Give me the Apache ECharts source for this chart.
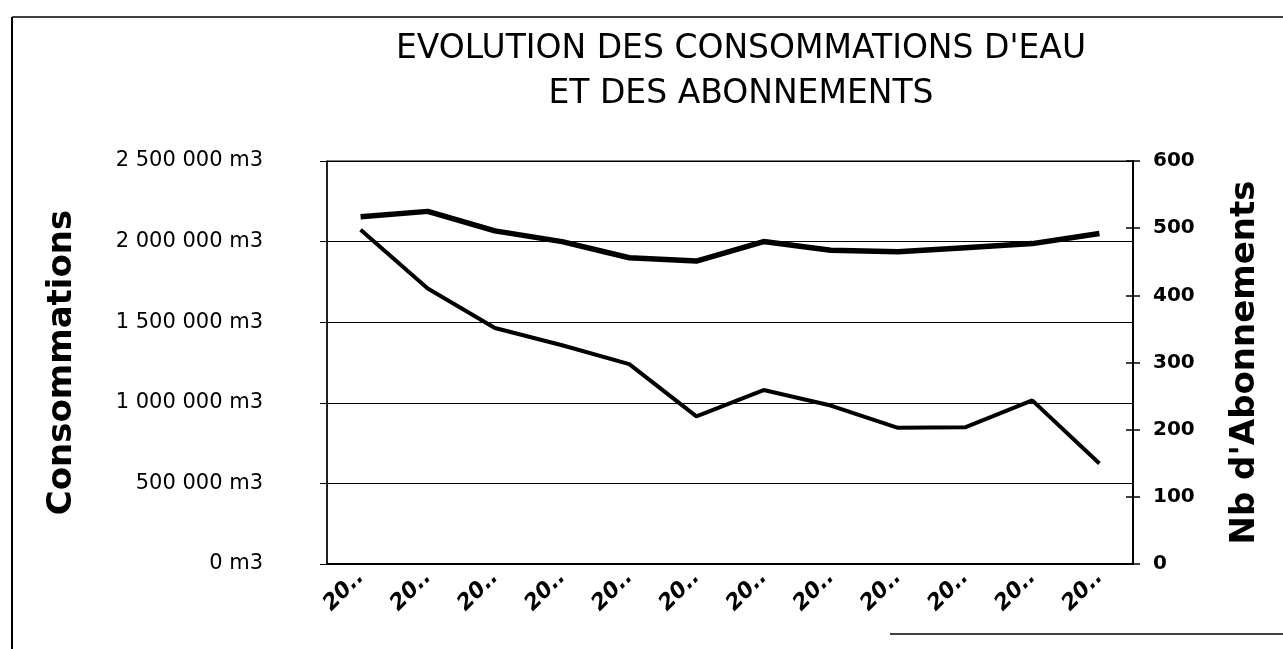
<!DOCTYPE html>
<html>
<head>
<meta charset="utf-8">
<script src="https://cdn.jsdelivr.net/npm/echarts@6/dist/echarts.min.js"></script>
<style>
  html, body { margin: 0; padding: 0; background: #fff; }
  #chart { width: 1283px; height: 649px; }
</style>
</head>
<body>
<div id="chart"></div>
<script>
// années tronquées comme sur l'original
const categories = ['20..', '20..', '20..', '20..', '20..', '20..', '20..', '20..', '20..', '20..', '20..', '20..']
const consommations = [2074000, 1709000, 1464000, 1357000, 1240000, 916000, 1079000, 983000, 845000, 848000, 1015000, 623000]
const abonnements = [517, 525, 496, 480, 456, 451, 480, 467, 465, 471, 477, 492]

const fmtM3 = (v) => String(v).replace(/\B(?=(\d{3})+(?!\d))/g, ' ') + ' m3'

const chart = echarts.init(document.getElementById('chart'))

chart.setOption({
  animation: false,
  backgroundColor: '#fff',
  title: {
    text: "EVOLUTION DES CONSOMMATIONS D'EAU\nET DES ABONNEMENTS",
    left: 736,
    top: 22,
    textAlign: 'center',
    textStyle: {
      fontFamily: 'DejaVu Sans',
      fontSize: 33,
      fontWeight: 'normal',
      color: '#000',
      lineHeight: 45,
    },
  },
  graphic: [
    { type: 'line', shape: { x1: 12, y1: 17, x2: 1283, y2: 17 }, style: { stroke: '#000', lineWidth: 1.5 } },
    { type: 'line', shape: { x1: 12, y1: 17, x2: 12, y2: 649 }, style: { stroke: '#000', lineWidth: 2 } },
    { type: 'line', shape: { x1: 890, y1: 634, x2: 1283, y2: 634 }, style: { stroke: '#000', lineWidth: 1.5 } },
  ],
  grid: {
    left: 327,
    right: 150,
    top: 161,
    bottom: 85,
    show: true,
    borderColor: '#000',
    borderWidth: 1,
  },
  xAxis: {
    type: 'category',
    data: categories,
    boundaryGap: true,
    axisLine: { lineStyle: { color: '#000', width: 2 } },
    axisTick: { length: 8, lineStyle: { color: '#000', width: 1.5 } },
    axisLabel: {
      interval: 0,
      rotate: 45,
      margin: 10,
      color: '#000',
      fontFamily: 'DejaVu Sans',
      fontSize: 22,
      fontWeight: 'bold',
      fontStyle: 'italic',
    },
  },
  yAxis: [
    {
      type: 'value',
      position: 'left',
      min: 0,
      max: 2500000,
      interval: 500000,
      name: 'Consommations',
      nameLocation: 'middle',
      nameGap: 248,
      nameTextStyle: { fontFamily: 'DejaVu Sans', fontSize: 34, fontWeight: 'bold', color: '#000' },
      axisLine: { show: true, lineStyle: { color: '#000', width: 1.5 } },
      axisTick: { show: true, length: 7, lineStyle: { color: '#000' } },
      axisLabel: { margin: 64, color: '#000', fontFamily: 'DejaVu Sans', fontSize: 21, formatter: fmtM3 },
      splitLine: { show: true, lineStyle: { color: '#000', width: 1 } },
    },
    {
      type: 'value',
      position: 'right',
      min: 0,
      max: 600,
      interval: 100,
      name: "Nb d'Abonnements",
      nameLocation: 'middle',
      nameGap: 95,
      nameTextStyle: { fontFamily: 'DejaVu Sans', fontSize: 34, fontWeight: 'bold', color: '#000' },
      axisLine: { show: true, lineStyle: { color: '#000', width: 2 } },
      axisTick: { show: true, length: 7, lineStyle: { color: '#000', width: 1.5 } },
      axisLabel: { margin: 20, color: '#000', fontFamily: 'DejaVu Sans', fontSize: 20, fontWeight: 'bold' },
      splitLine: { show: false },
    },
    {
      // ticks intérieurs de l'axe droit (graduations croisées)
      type: 'value',
      position: 'right',
      min: 0,
      max: 600,
      interval: 100,
      axisLine: { show: false },
      axisTick: { show: true, inside: true, length: 7, lineStyle: { color: '#000', width: 1.5 } },
      axisLabel: { show: false },
      splitLine: { show: false },
    },
  ],
  series: [
    {
      name: 'Abonnements',
      type: 'line',
      yAxisIndex: 1,
      data: abonnements,
      symbol: 'none',
      lineStyle: { color: '#000', width: 5.5 },
    },
    {
      name: 'Consommations',
      type: 'line',
      yAxisIndex: 0,
      data: consommations,
      symbol: 'none',
      lineStyle: { color: '#000', width: 4 },
    },
  ],
})
</script>
</body>
</html>
